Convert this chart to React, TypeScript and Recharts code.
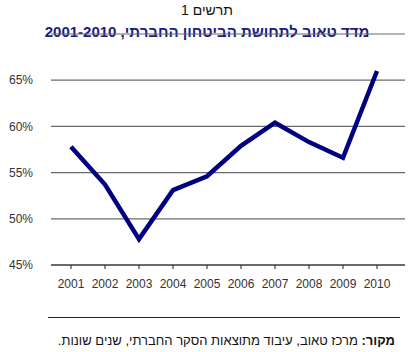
import { LineChart, Line, XAxis, YAxis, CartesianGrid } from 'recharts';

const years = ['2001', '2002', '2003', '2004', '2005', '2006', '2007', '2008', '2009', '2010'];
const taubIndex = [57.8, 53.7, 47.8, 53.1, 54.6, 57.9, 60.4, 58.3, 56.6, 66.0];
const yTicks = [45, 50, 55, 60, 65];

const data = years.map((year, i) => ({ year, value: taubIndex[i] }));

const font = '"Liberation Sans", Arial, sans-serif';

export default function App() {
  return (
    <div style={{ position: 'relative', width: 408, height: 352, background: '#fff', fontFamily: font }}>
      <style>{'body{margin:0}'}</style>
      <div
        style={{
          position: 'absolute',
          top: 2,
          left: 0,
          width: 414,
          textAlign: 'center',
          fontSize: 14,
          color: '#111',
          direction: 'rtl',
        }}
      >
        תרשים 1
      </div>
      <div
        style={{
          position: 'absolute',
          top: 23,
          left: 0,
          width: 414,
          textAlign: 'center',
          fontSize: 15,
          fontWeight: 'bold',
          color: '#1c1c80',
          direction: 'rtl',
        }}
      >
        מדד טאוב לתחושת הביטחון החברתי, 2001-2010
      </div>
      <div style={{ position: 'absolute', top: 0, left: 0 }}>
        <LineChart width={408} height={352} data={data} margin={{ top: 34, right: 3, left: 0, bottom: 57 }}>
          <CartesianGrid vertical={false} stroke="#6a6a6a" strokeWidth={1.2} />
          <XAxis
            dataKey="year"
            padding={{ left: 20, right: 28 }}
            stroke="#222"
            tickSize={4}
            tickMargin={10}
            tick={{ fontSize: 12, fill: '#333', fontFamily: font }}
            height={30}
          />
          <YAxis
            domain={[45, 70]}
            ticks={yTicks}
            width={51}
            axisLine={false}
            tickLine={false}
            tickMargin={12}
            tickFormatter={(v) => `${v}%`}
            tick={{ fontSize: 12, fill: '#333', fontFamily: font }}
          />
          <Line
            type="linear"
            dataKey="value"
            stroke="#000080"
            strokeWidth={4.5}
            dot={false}
            isAnimationActive={false}
          />
        </LineChart>
      </div>
      <div style={{ position: 'absolute', top: 317, left: 48, width: 352, height: 1, background: '#222' }} />
      <div
        style={{
          position: 'absolute',
          top: 333,
          right: 13,
          fontSize: 13,
          color: '#111',
          direction: 'rtl',
          whiteSpace: 'nowrap',
        }}
      >
        <b>מקור:</b> מרכז טאוב, עיבוד מתוצאות הסקר החברתי, שנים שונות.
      </div>
    </div>
  );
}
